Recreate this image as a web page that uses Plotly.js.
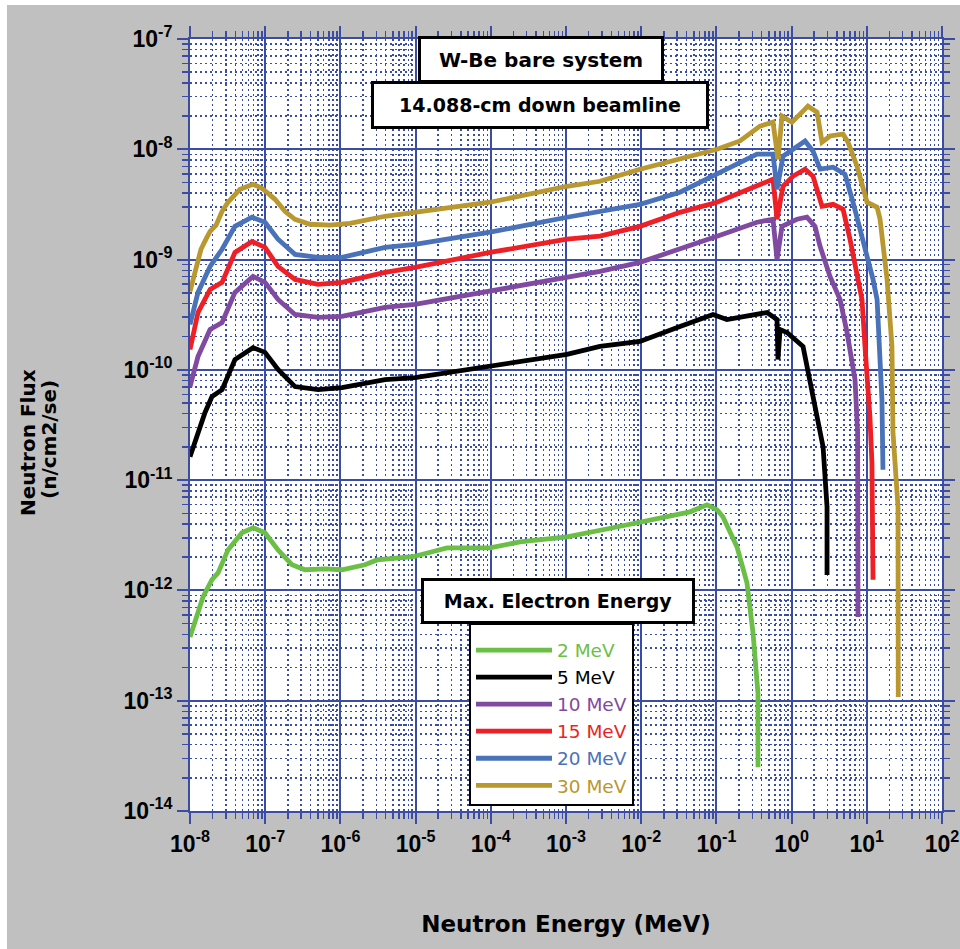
<!DOCTYPE html>
<html>
<head>
<meta charset="utf-8">
<script src="https://cdn.plot.ly/plotly-3.0.1.min.js"></script>
<style>html,body{margin:0;padding:0;background:#fff;}#chart{width:960px;height:949px;}</style>
</head>
<body>
<div id="chart"></div>
<script>
// ---- data ----
const seriesNames = ['2 MeV', '5 MeV', '10 MeV', '15 MeV', '20 MeV', '30 MeV'];
const seriesColors = ['#6cbf46', '#000000', '#7f4aa0', '#ee1f25', '#4a72b8', '#b8982f'];

const E_2MeV = [1.0e-8,1.165e-8,1.49e-8,1.96e-8,2.36e-8,3.2e-8,4.91e-8,6.89e-8,9.94e-8,1.48e-7,2.27e-7,3.38e-7,6.24e-7,1.05e-6,2.12e-6,3.07e-6,9.23e-6,2.62e-5,9.76e-5,2.44e-4,1.03e-3,4.22e-3,1.95e-2,4.46e-2,7.50e-2,0.102,0.122,0.188,0.255,0.307,0.357,0.357];
const F_2MeV = [3.78e-13,5.07e-13,8.73e-13,1.25e-12,1.44e-12,2.33e-12,3.33e-12,3.70e-12,3.33e-12,2.33e-12,1.71e-12,1.54e-12,1.57e-12,1.54e-12,1.71e-12,1.89e-12,2.02e-12,2.43e-12,2.43e-12,2.76e-12,3.06e-12,3.70e-12,4.55e-12,5.16e-12,5.98e-12,5.38e-12,4.65e-12,2.48e-12,1.17e-12,4.11e-13,1.17e-13,2.49e-14];

const E_5MeV = [1.0e-8,1.277e-8,1.58e-8,1.96e-8,2.67e-8,3.96e-8,6.89e-8,9.94e-8,1.48e-7,2.49e-7,5.04e-7,1.05e-6,3.92e-6,9.82e-6,9.76e-5,1.03e-3,2.83e-3,9.64e-3,3.28e-2,9.01e-2,0.138,0.471,0.640,0.659,0.702,0.869,1.42,1.93,2.62,2.96,2.96];
const F_5MeV = [1.63e-11,2.70e-11,4.09e-11,5.72e-11,6.62e-11,1.24e-10,1.59e-10,1.44e-10,1.01e-10,7.05e-11,6.62e-11,6.91e-11,8.17e-11,8.51e-11,1.07e-10,1.38e-10,1.63e-10,1.81e-10,2.47e-10,3.18e-10,2.86e-10,3.31e-10,2.86e-10,1.24e-10,2.32e-10,2.18e-10,1.63e-10,5.37e-11,2.01e-11,5.73e-12,1.38e-12];

const E_10MeV = [1.0e-8,1.277e-8,1.85e-8,2.67e-8,3.96e-8,6.89e-8,9.94e-8,1.48e-7,2.49e-7,5.04e-7,1.05e-6,3.92e-6,9.82e-6,9.76e-5,1.03e-3,2.83e-3,9.64e-3,3.28e-2,0.102,0.347,0.566,0.640,0.745,1.18,1.60,2.05,2.39,3.24,4.41,5.46,6.97,7.55,7.64,7.64];
const F_10MeV = [7.05e-11,1.32e-10,2.32e-10,2.69e-10,5.04e-10,7.04e-10,6.21e-10,4.35e-10,3.18e-10,2.99e-10,3.05e-10,3.68e-10,3.92e-10,5.14e-10,6.89e-10,7.82e-10,9.43e-10,1.24e-9,1.63e-9,2.18e-9,2.32e-9,1.00e-9,2.00e-9,2.32e-9,2.42e-9,2.00e-9,1.32e-9,7.04e-10,4.35e-10,2.18e-10,8.17e-11,2.70e-11,6.64e-12,5.75e-13];

const E_15MeV = [1.0e-8,1.277e-8,1.85e-8,2.67e-8,3.96e-8,6.68e-8,9.94e-8,1.48e-7,2.49e-7,5.04e-7,1.05e-6,3.92e-6,9.82e-6,9.76e-5,1.03e-3,2.83e-3,9.64e-3,3.28e-2,0.102,0.347,0.566,0.640,0.769,1.04,1.51,1.93,2.54,3.56,4.83,5.98,7.64,8.63,9.46,11.0,11.7,12.1];
const F_15MeV = [1.53e-10,3.31e-10,5.36e-10,6.21e-10,1.16e-9,1.46e-9,1.29e-9,8.67e-10,6.61e-10,5.95e-10,6.21e-10,7.65e-10,8.49e-10,1.16e-9,1.53e-9,1.63e-9,2.00e-9,2.68e-9,3.31e-9,4.62e-9,5.35e-9,2.32e-9,4.62e-9,5.69e-9,6.60e-9,5.69e-9,3.04e-9,3.17e-9,2.86e-9,1.53e-9,6.61e-10,4.35e-10,1.63e-10,3.77e-11,1.44e-11,1.25e-12];

const E_20MeV = [1.0e-8,1.277e-8,1.85e-8,2.67e-8,3.96e-8,6.68e-8,9.94e-8,1.48e-7,2.49e-7,5.04e-7,1.05e-6,3.92e-6,9.82e-6,9.76e-5,1.03e-3,2.83e-3,9.64e-3,3.28e-2,0.102,0.347,0.566,0.640,0.769,1.18,1.51,1.93,2.39,3.56,5.13,6.55,8.90,12.1,13.7,15.0,15.9,16.4];
const F_20MeV = [2.58e-10,5.04e-10,8.67e-10,1.24e-9,2.00e-9,2.42e-9,2.18e-9,1.53e-9,1.115e-9,1.047e-9,1.047e-9,1.29e-9,1.37e-9,1.77e-9,2.42e-9,2.74e-9,3.17e-9,4.08e-9,5.94e-9,9.03e-9,9.03e-9,4.34e-9,8.65e-9,1.045e-8,1.19e-8,9.61e-9,6.60e-9,6.88e-9,5.94e-9,3.31e-9,1.53e-9,6.61e-10,4.35e-10,1.24e-10,5.37e-11,1.24e-11];

const E_30MeV = [1.0e-8,1.165e-8,1.40e-8,1.63e-8,1.85e-8,2.22e-8,2.67e-8,3.2e-8,4.62e-8,6.89e-8,9.06e-8,1.35e-7,1.83e-7,2.49e-7,3.94e-7,7.27e-7,1.34e-6,3.92e-6,9.82e-6,9.76e-5,1.03e-3,2.83e-3,9.64e-3,3.28e-2,0.102,0.206,0.380,0.566,0.659,0.745,1.01,1.42,1.65,2.18,2.54,3.24,4.83,5.62,7.41,10.07,13.7,15.0,18.6,21.6,22.3,26.0,26.2];
const F_30MeV = [5.14e-10,7.82e-10,1.24e-9,1.53e-9,1.80e-9,2.05e-9,2.74e-9,3.31e-9,4.34e-9,4.82e-9,4.43e-9,3.52e-9,2.74e-9,2.32e-9,2.09e-9,2.05e-9,2.13e-9,2.47e-9,2.68e-9,3.31e-9,4.62e-9,5.13e-9,6.60e-9,8.13e-9,1.00e-8,1.19e-8,1.62e-8,1.76e-8,8.13e-9,2.00e-8,1.76e-8,2.22e-8,2.46e-8,2.17e-8,1.16e-8,1.32e-8,1.37e-8,1.16e-8,7.02e-9,3.31e-9,2.98e-9,2.32e-9,6.61e-10,1.63e-10,2.70e-11,5.73e-12,1.08e-13];

const xTickVals = [1e-8,1e-7,1e-6,1e-5,1e-4,1e-3,1e-2,1e-1,1e0,1e1,1e2];
const xTickText = ['10<sup>-8</sup>','10<sup>-7</sup>','10<sup>-6</sup>','10<sup>-5</sup>','10<sup>-4</sup>','10<sup>-3</sup>','10<sup>-2</sup>','10<sup>-1</sup>','10<sup>0</sup>','10<sup>1</sup>','10<sup>2</sup>'];
const yTickVals = [1e-14,1e-13,1e-12,1e-11,1e-10,1e-9,1e-8,1e-7];
const yTickText = ['10<sup>-14</sup>','10<sup>-13</sup>','10<sup>-12</sup>','10<sup>-11</sup>','10<sup>-10</sup>','10<sup>-9</sup>','10<sup>-8</sup>','10<sup>-7</sup>'];

const xs = [E_2MeV, E_5MeV, E_10MeV, E_15MeV, E_20MeV, E_30MeV];
const ys = [F_2MeV, F_5MeV, F_10MeV, F_15MeV, F_20MeV, F_30MeV];

// ---- styling ----
const gridBlue = '#3a4ca6';
const tickFont = {family: 'Liberation Sans Narrow, Liberation Sans, Arial', size: 23, color: '#000', weight: 'bold'};
const boldFont = 'DejaVu Sans, Verdana, sans-serif';

const traces = seriesNames.map((n, i) => ({
  type: 'scatter', mode: 'lines',
  x: xs[i], y: ys[i],
  name: '<span style="color:' + seriesColors[i] + '">' + n + '</span>',
  line: {color: seriesColors[i], width: 4.8},
  hoverinfo: 'x+y'
}));

function axisBase() {
  return {
    type: 'log',
    tickmode: 'array',
    ticks: 'outside', ticklen: 11, tickwidth: 2, tickcolor: gridBlue,
    showline: true, linecolor: gridBlue, linewidth: 2, mirror: 'allticks',
    showgrid: true, gridcolor: gridBlue, gridwidth: 2,
    zeroline: false,
    ticklabeloverflow: 'allow',
    tickfont: tickFont,
    minor: {dtick: 'D1', ticks: 'outside', ticklen: 6, tickwidth: 1.5, tickcolor: gridBlue,
            showgrid: true, gridcolor: gridBlue, gridwidth: 1.5, griddash: '2px,3px'}
  };
}

const xaxis = Object.assign(axisBase(), {
  range: [-8, 2], tickvals: xTickVals, ticktext: xTickText,
  title: {text: 'Neutron Energy (MeV)', font: {family: boldFont, size: 23, color: '#000', weight: 'bold'}, standoff: 60}
});
const yaxis = Object.assign(axisBase(), {
  range: [-14, -7], tickvals: yTickVals, ticktext: yTickText
});

const boxStyle = {xref: 'paper', yref: 'paper', showarrow: false, xanchor: 'center', yanchor: 'middle',
  bgcolor: '#ffffff', bordercolor: '#000000', borderwidth: 3, borderpad: 4};
const yTitleStyle = {xref: 'paper', yref: 'paper', showarrow: false, xanchor: 'center', yanchor: 'middle',
  textangle: -90, font: {family: boldFont, size: 20, color: '#000', weight: 'bold'}};

const layout = {
  width: 960, height: 949,
  margin: {l: 190, r: 18, t: 39, b: 138},
  paper_bgcolor: '#ffffff',
  plot_bgcolor: '#ffffff',
  xaxis: xaxis, yaxis: yaxis,
  showlegend: true,
  legend: {x: 0.371, y: 0.2435, xanchor: 'left', yanchor: 'top',
    bgcolor: '#ffffff', bordercolor: '#000000', borderwidth: 2,
    title: {text: ' ', font: {size: 5}},
    font: {family: 'DejaVu Sans, Verdana, sans-serif', size: 18.5, color: '#000'},
    itemwidth: 76, tracegroupgap: 0},
  shapes: [
    {type: 'rect', xref: 'paper', yref: 'paper', x0: -0.2434, x1: 1.05, y0: -0.2, y1: 1.044,
     fillcolor: '#c0c0c0', line: {width: 0}, layer: 'below'},
    {type: 'rect', xref: 'paper', yref: 'paper', x0: 0, x1: 1, y0: 0, y1: 1,
     fillcolor: '#ffffff', line: {width: 0}, layer: 'below'}
  ],
  annotations: [
    Object.assign({}, boxStyle, {x: 0.4668, y: 0.9728, width: 232, height: 33,
      text: 'W-Be bare system', font: {family: boldFont, size: 20, color: '#000', weight: 'bold'}}),
    Object.assign({}, boxStyle, {x: 0.4654, y: 0.9139, width: 324, height: 34,
      text: '14.088-cm down beamline', font: {family: boldFont, size: 19, color: '#000', weight: 'bold'}}),
    Object.assign({}, boxStyle, {x: 0.4887, y: 0.2714, width: 260, height: 32,
      text: 'Max. Electron Energy', font: {family: boldFont, size: 19, color: '#000', weight: 'bold'}}),
    Object.assign({}, yTitleStyle, {x: (28 - 190) / 752, y: (811 - 443) / 772, text: 'Neutron Flux'}),
    Object.assign({}, yTitleStyle, {x: (49 - 190) / 752, y: (811 - 440) / 772, text: '(n/cm2/se)'})
  ]
};

Plotly.newPlot('chart', traces, layout, {staticPlot: true, displayModeBar: false});
</script>
</body>
</html>
